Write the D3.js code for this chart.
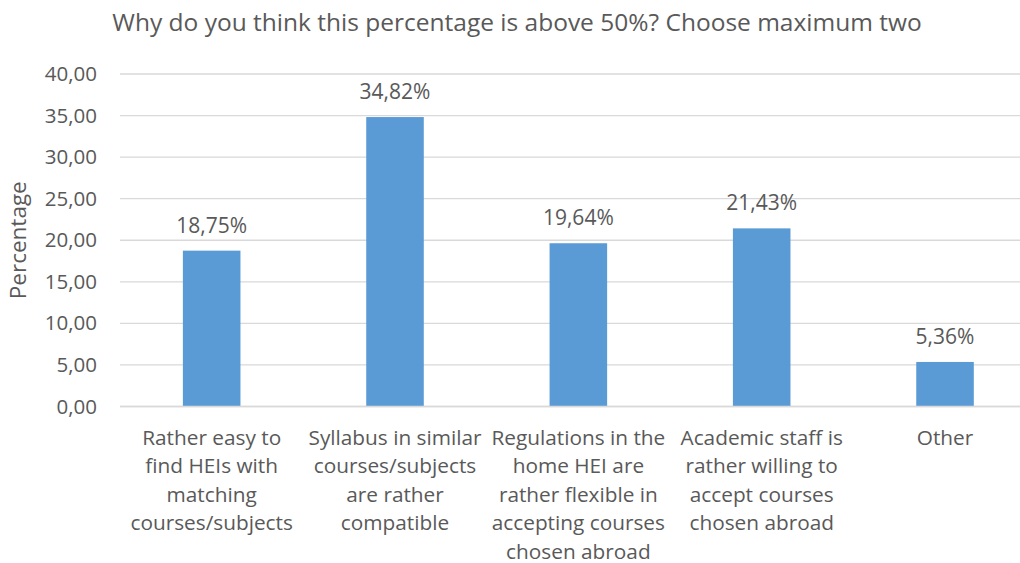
<!DOCTYPE html>
<html>
<head>
<meta charset="utf-8">
<script src="https://cdn.jsdelivr.net/npm/d3@7"></script>
<style>
  html, body { margin: 0; padding: 0; background: #fff; }
  svg { display: block; }
  text { font-family: "Open Sans", "Noto Sans", sans-serif; fill: #595959; }
</style>
</head>
<body>
<svg id="chart" width="1020" height="563"></svg>
<script>
const categories = [
  "Rather easy to find HEIs with matching courses/subjects",
  "Syllabus in similar courses/subjects are rather compatible",
  "Regulations in the home HEI are rather flexible in accepting courses chosen abroad",
  "Academic staff is rather willing to accept courses chosen abroad",
  "Other"
];
const categoryLines = [
  ["Rather easy to", "find HEIs with", "matching", "courses/subjects"],
  ["Syllabus in similar", "courses/subjects", "are rather", "compatible"],
  ["Regulations in the", "home HEI are", "rather flexible in", "accepting courses", "chosen abroad"],
  ["Academic staff is", "rather willing to", "accept courses", "chosen abroad"],
  ["Other"]
];
const values = [18.75, 34.82, 19.64, 21.43, 5.36];
const yTicks = [0, 5, 10, 15, 20, 25, 30, 35, 40];
const title = "Why do you think this percentage is above 50%? Choose maximum two";
const yTitle = "Percentage";

const svg = d3.select("#chart");
const plotLeft = 120, plotRight = 1036.7, plotTop = 74, plotBottom = 406.5;

const x = d3.scaleBand().domain(categories).range([plotLeft, plotRight])
  .paddingInner(0.686).paddingOuter(0.343);
const y = d3.scaleLinear().domain([0, 40]).range([plotBottom, plotTop]);

const fmt = v => v.toFixed(2).replace(".", ",");

// gridlines
svg.append("g").selectAll("line").data(yTicks).join("line")
  .attr("x1", plotLeft).attr("x2", plotRight)
  .attr("y1", d => y(d)).attr("y2", d => y(d))
  .attr("stroke", "#d9d9d9").attr("stroke-width", 1.3);

// y axis labels
const yAxis = d3.axisLeft(y).tickValues(yTicks).tickFormat(fmt).tickSize(0).tickPadding(23);
const ga = svg.append("g").attr("transform", `translate(${plotLeft},0)`).call(yAxis);
ga.select(".domain").remove();
ga.selectAll("text").attr("font-size", 20.5).attr("fill", "#595959")
  .style("font-family", '"Open Sans", sans-serif');

// bars
svg.append("g").selectAll("rect").data(values).join("rect")
  .attr("x", (d, i) => x(categories[i]))
  .attr("width", x.bandwidth())
  .attr("y", d => y(d))
  .attr("height", d => y(0) - y(d))
  .attr("fill", "#5b9bd5");

// value labels
svg.append("g").selectAll("text").data(values).join("text")
  .attr("x", (d, i) => x(categories[i]) + x.bandwidth() / 2)
  .attr("y", d => y(d) - 18)
  .attr("text-anchor", "middle")
  .attr("font-size", 21)
  .text(d => fmt(d) + "%");

// category labels
const cl = svg.append("g").selectAll("text").data(categoryLines).join("text")
  .attr("text-anchor", "middle")
  .attr("font-size", 20.8)
  .attr("transform", (d, i) => `translate(${x(categories[i]) + x.bandwidth() / 2},444.5)`);
cl.selectAll("tspan").data(d => d).join("tspan")
  .attr("x", 0).attr("y", (d, j) => j * 28.6)
  .text(d => d);

// base line
svg.append("line").attr("x1", plotLeft).attr("x2", plotRight)
  .attr("y1", y(0)).attr("y2", y(0))
  .attr("stroke", "#d9d9d9").attr("stroke-width", 1.3);

// title
svg.append("text").attr("x", 517).attr("y", 31)
  .attr("text-anchor", "middle").attr("font-size", 24.5)
  .text(title);

// y axis title
svg.append("text")
  .attr("transform", `translate(26,${(plotTop + plotBottom) / 2}) rotate(-90)`)
  .attr("text-anchor", "middle").attr("font-size", 22.5)
  .text(yTitle);
</script>
</body>
</html>
